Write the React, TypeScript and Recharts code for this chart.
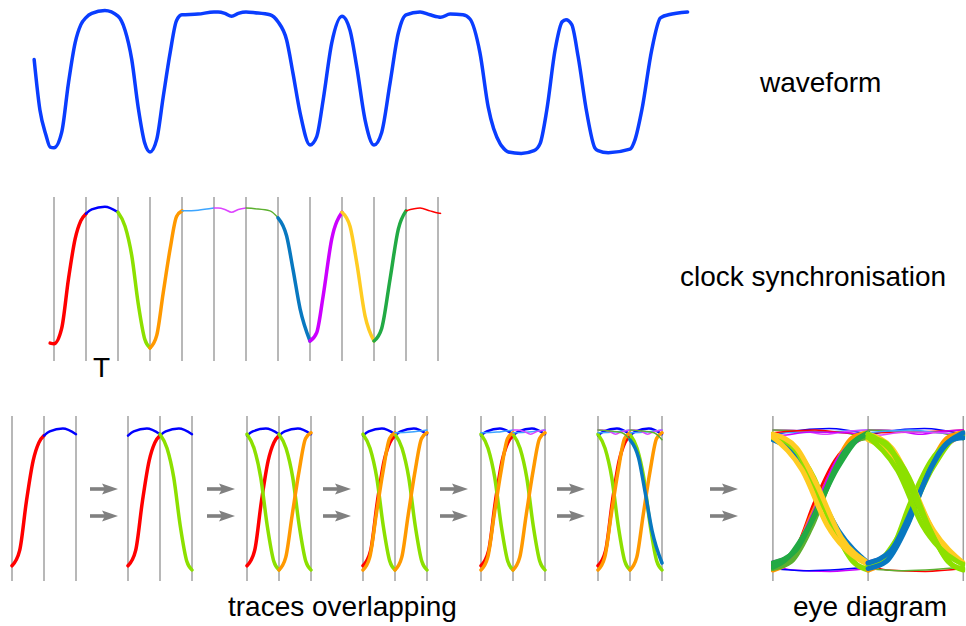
import React from "react";
import { LineChart, Line, XAxis, YAxis, ReferenceLine } from "recharts";

// Received signal, sampled as [time in unit intervals, normalised level].
const waveform: [number, number][] = [
  [-0.62, 0.66], [-0.44, 0.3], [-0.25, 0.12], [-0.12, 0.035],
  [0, 0.03], [0.24, 0.14], [0.45, 0.49], [0.66, 0.78], [0.84, 0.91],
  [1, 0.96], [1.18, 0.99], [1.59, 1.01],
  [2, 0.97], [2.22, 0.87], [2.43, 0.66], [2.63, 0.32], [2.84, 0.06],
  [3, 0.0], [3.21, 0.09], [3.41, 0.39], [3.63, 0.71], [3.83, 0.94],
  [4, 0.98], [4.5, 0.985],
  [5, 1.0], [5.13, 1.0], [5.34, 0.99], [5.55, 0.97], [5.76, 0.99],
  [6, 1.0], [6.28, 0.995], [6.75, 0.98],
  [7, 0.93], [7.27, 0.8], [7.47, 0.56], [7.69, 0.28],
  [8, 0.05], [8.21, 0.11], [8.41, 0.37], [8.68, 0.78],
  [9, 0.97], [9.25, 0.87], [9.46, 0.61], [9.72, 0.23],
  [10, 0.05], [10.24, 0.14], [10.5, 0.49], [10.76, 0.85],
  [11, 0.98], [11.44, 1.0], [11.75, 0.98],
  [12, 0.965], [12.08, 0.962], [12.38, 0.985], [12.78, 0.98],
  [13, 0.95], [13.31, 0.71], [13.57, 0.32], [13.94, 0.06],
  [14, 0.04], [14.2, 0.0], [14.6, -0.01],
  [15, 0.01], [15.19, 0.06], [15.4, 0.3], [15.66, 0.73], [15.88, 0.93],
  [16, 0.945], [16.18, 0.91], [16.38, 0.68], [16.65, 0.28], [16.9, 0.03],
  [17, 0.01], [17.32, -0.005],
  [18, 0.02], [18.16, 0.09], [18.37, 0.3], [18.68, 0.73], [18.94, 0.955],
  [19, 0.965], [19.2, 0.98], [19.8, 1.0],
];

const RED = "#ff0000";
const BLUE = "#0000ff";
const YGREEN = "#8ce000";
const ORANGE = "#ff9900";
const LIGHTBLUE = "#3da5ff";
const MAGENTA = "#dd44ff";
const GREEN = "#5cb030";
const STEEL = "#0878c0";
const VIOLET = "#cc00ff";
const GOLD = "#ffcc22";
const DGREEN = "#22aa44";

// one colour per clock period of the synchronised trace
const segmentColors = [RED, BLUE, YGREEN, ORANGE, LIGHTBLUE, MAGENTA, GREEN, STEEL, VIOLET, GOLD, DGREEN, RED];

const clockTicks = [0, 1, 2, 3, 4, 5, 6, 7, 8, 9, 10, 11, 12];
const windowTicks = [0, 1, 2];

// two-period windows folded into each overlap step
const panelWindows = [[0], [0, 1], [0, 1, 2], [0, 1, 2, 3], [0, 1, 2, 3, 4], [0, 1, 2, 3, 4, 5, 6]];
const panelLeft = [12.3, 128.3, 247, 363, 480.7, 598.3];
const arrowX = [90, 207, 323, 440, 557, 710];

// eye diagram: [segment, colour] for the left and right period
const eyeLeft: [number, string][] = [
  [14, VIOLET], [17, BLUE], [1, BLUE], [4, LIGHTBLUE], [5, MAGENTA], [6, GREEN], [11, RED], [12, VIOLET],
  [0, RED], [3, ORANGE], [8, VIOLET], [15, GREEN], [10, DGREEN], [18, DGREEN],
  [7, STEEL], [16, YGREEN], [2, YGREEN], [9, GOLD], [13, GOLD],
];
const eyeRight: [number, string][] = [
  [14, RED], [17, GREEN], [1, BLUE], [4, RED], [5, VIOLET], [6, GREEN], [11, LIGHTBLUE], [12, MAGENTA],
  [3, ORANGE], [8, VIOLET], [0, YGREEN], [18, YGREEN], [10, STEEL], [15, STEEL],
  [7, GOLD], [9, GOLD], [16, YGREEN], [13, YGREEN], [2, YGREEN],
];

const level = (t: number) => {
  const p = waveform.find(([x]) => Math.abs(x - t) < 1e-6);
  return p ? p[1] : 0;
};
const isEdge = (i: number) => Math.abs(level(i + 1) - level(i)) > 0.5;

const pick = (lo: number, hi: number, shift = 0) =>
  waveform
    .filter(([t]) => t >= lo - 1e-6 && t <= hi + 1e-6)
    .map(([t, v]) => ({ t: t - shift, v }));

const FONT = "'Liberation Sans', Arial, sans-serif";
const GRID = "#a0a0a0";

const seg = (key: string, data: { t: number; v: number }[], color: string, width: number) => (
  <Line
    key={key}
    data={data}
    dataKey="v"
    type="monotone"
    stroke={color}
    strokeWidth={width}
    strokeLinecap="round"
    dot={false}
    activeDot={false}
    isAnimationActive={false}
  />
);

const axes = (xDomain: [number, number], yDomain: [number, number]) => [
  <XAxis key="x" dataKey="t" type="number" domain={xDomain} hide allowDataOverflow />,
  <YAxis key="y" type="number" domain={yDomain} hide allowDataOverflow />,
];

const grid = (ticks: number[]) =>
  ticks.map((x) => <ReferenceLine key={`g${x}`} x={x} stroke={GRID} strokeWidth={1.5} />);

const noMargin = { top: 0, right: 0, bottom: 0, left: 0 };
const LOW_DOMAIN: [number, number] = [-0.0786, 1.1];

function Label({ text, x, y, size = 28 }: { text: string; x: number; y: number; size?: number }) {
  return (
    <div style={{ position: "absolute", left: x, top: y, fontFamily: FONT, fontSize: size, lineHeight: 1, whiteSpace: "nowrap", color: "#000" }}>
      {text}
    </div>
  );
}

export default function App() {
  const widthFor = (i: number) => (isEdge(i) ? 3.5 : i === 1 ? 2.5 : 1.5);

  return (
    <div style={{ position: "absolute", left: 0, top: 0, width: 966, height: 626, background: "#fff", overflow: "hidden" }}>
      {/* full waveform */}
      <div style={{ position: "absolute", left: 22, top: 5 }}>
        <LineChart width={688} height={161} margin={noMargin}>
          {axes([-1, 20.5], [-0.1, 1.05])}
          {seg("wave", pick(-1, 21), "#0a3dff", 3.5)}
        </LineChart>
      </div>

      {/* clock synchronised, coloured per period */}
      <div style={{ position: "absolute", left: 38, top: 197 }}>
        <LineChart width={416} height={164} margin={noMargin}>
          {axes([-0.5, 12.5], [-0.093, 1.079])}
          {grid(clockTicks)}
          {segmentColors.map((c, i) =>
            seg(`s${i}`, pick(i === 0 ? -0.12 : i, i === 11 ? 12.08 : i + 1), c, widthFor(i))
          )}
        </LineChart>
      </div>

      {/* overlap steps */}
      {panelWindows.map((wins, p) => (
        <div key={p} style={{ position: "absolute", left: panelLeft[p] - 8, top: 416 }}>
          <LineChart width={80} height={165} margin={noMargin}>
            {axes([-0.25, 2.25], LOW_DOMAIN)}
            {grid(windowTicks)}
            {wins.flatMap((w) => [
              seg(`p${p}l${w}`, pick(w, w + 1, w), segmentColors[w], widthFor(w)),
              seg(`p${p}r${w}`, pick(w + 1, w + 2, w), segmentColors[w + 1], widthFor(w + 1)),
            ])}
          </LineChart>
        </div>
      ))}

      {/* eye diagram */}
      <div style={{ position: "absolute", left: 771.4, top: 416 }}>
        <LineChart width={194.2} height={165} margin={noMargin}>
          {axes([-0.02, 2.02], LOW_DOMAIN)}
          {grid(windowTicks)}
          {eyeLeft.map(([s, c], k) => seg(`el${k}`, pick(s, s + 1, s), c, isEdge(s) ? 5 : 1.5))}
          {eyeRight.map(([s, c], k) => seg(`er${k}`, pick(s, s + 1, s - 1), c, isEdge(s) ? 5 : 1.5))}
        </LineChart>
      </div>

      <svg width={966} height={626} style={{ position: "absolute", left: 0, top: 0, pointerEvents: "none" }}>
        {arrowX.flatMap((x) =>
          [489, 516].map((y) => (
            <g key={`${x}-${y}`} fill="#808080" stroke="none">
              <rect x={x} y={y - 1.8} width={16} height={3.6} />
              <polygon points={`${x + 12},${y - 5.5} ${x + 28},${y} ${x + 12},${y + 5.5} ${x + 15},${y}`} />
            </g>
          ))
        )}
      </svg>

      <Label text="waveform" x={760} y={69} />
      <Label text="clock synchronisation" x={680} y={263} />
      <Label text="T" x={93} y={354} />
      <Label text="traces overlapping" x={228} y={593} />
      <Label text="eye diagram" x={793} y={593} />
    </div>
  );
}
